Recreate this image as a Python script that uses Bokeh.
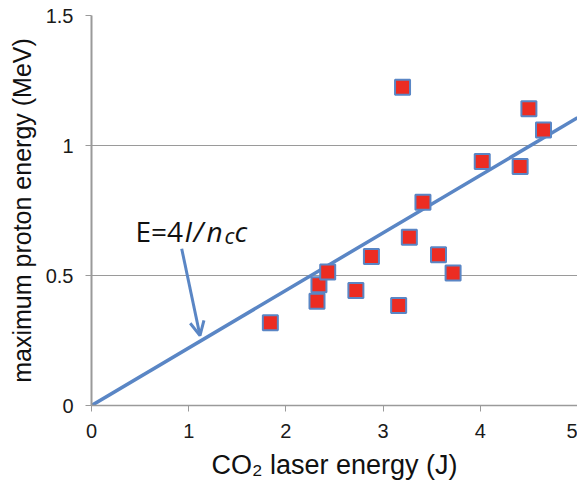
from bokeh.plotting import figure
from bokeh.models import FixedTicker, Arrow, OpenHead, Label
from bokeh.embed import file_html
from bokeh.resources import INLINE

# Data
laser_energy = [1.84, 2.32, 2.34, 2.43, 2.72, 2.88, 3.16, 3.20, 3.27, 3.41,
                3.57, 3.72, 4.02, 4.41, 4.50, 4.65]
proton_energy = [0.318, 0.401, 0.464, 0.513, 0.442, 0.573, 0.385, 1.224, 0.647, 0.782,
                 0.580, 0.510, 0.938, 0.919, 1.141, 1.060]
fit_x = [-0.08, 5.0]
fit_y = [-0.018, 1.107]
x_ticks = [0, 1, 2, 3, 4, 5]
x_tick_labels = ["0", "1", "2", "3", "4", "5"]
y_ticks = [0, 0.5, 1, 1.5]
y_tick_labels = ["0", "0.5", "1", "1.5"]

BLUE = "#5A86C5"
RED = "#EC2C22"
AXIS_GRAY = "#9A9A9A"

p = figure(frame_width=486, frame_height=390, x_range=(0, 5), y_range=(0, 1.5),
           output_backend="svg", toolbar_location=None,
           min_border_left=91, min_border_right=0, min_border_top=15, min_border_bottom=66)
p.outline_line_color = None
p.background_fill_color = "white"
p.border_fill_color = "white"

p.xaxis.ticker = FixedTicker(ticks=x_ticks)
p.yaxis.ticker = FixedTicker(ticks=y_ticks)
p.xaxis.major_label_overrides = {t: l for t, l in zip(x_ticks, x_tick_labels)}
p.yaxis.major_label_overrides = {t: l for t, l in zip(y_ticks, y_tick_labels)}

for ax in (p.xaxis, p.yaxis):
    ax.minor_tick_line_color = None
    ax.major_tick_in = 0
    ax.major_tick_out = 6
    ax.major_tick_line_color = AXIS_GRAY
    ax.axis_line_color = AXIS_GRAY
    ax.major_label_text_font = "Liberation Sans"
    ax.major_label_text_font_size = "20px"
    ax.major_label_text_color = "#1a1a1a"
    ax.axis_label_text_font = "Liberation Sans"
    ax.axis_label_text_font_style = "normal"
    ax.axis_label_text_color = "#111111"

p.xaxis.axis_label_text_font_size = "27px"
p.yaxis.axis_label_text_font_size = "25px"
p.xaxis.axis_line_width = 1.5
p.yaxis.axis_line_width = 2
p.xaxis.major_label_standoff = 12
p.yaxis.major_label_standoff = 12
p.xaxis.axis_label_standoff = 9
p.yaxis.axis_label_standoff = 7
p.xaxis.axis_label = "CO\u2082 laser energy (J)"
p.yaxis.axis_label = "maximum proton energy (MeV)"

p.xgrid.grid_line_color = None
p.ygrid.grid_line_color = AXIS_GRAY
p.ygrid.grid_line_width = 1

p.line(fit_x, fit_y, line_color=BLUE, line_width=3.5)
p.scatter(laser_energy, proton_energy, marker="square", size=15,
          fill_color=RED, line_color=BLUE, line_width=2)

p.add_layout(Arrow(end=OpenHead(size=14, line_color=BLUE, line_width=3),
                   x_start=0.928, y_start=0.603, x_end=1.116, y_end=0.269,
                   line_color=BLUE, line_width=3))

# Annotation E=4I/n_c c
bx, by = 0.453, 0.673
sub_dy = 0.019
px = 1 / 97.2
parts = [
    ("E=4", 0, 0, "normal", "28px"),
    ("I", 49, 0, "italic", "28px"),
    ("/", 58, 0, "italic", "28px"),
    ("n", 71, 0, "italic", "28px"),
    ("c", 89, -sub_dy, "italic", "22px"),
    ("c", 99, 0, "italic", "28px"),
]
for txt, dx, dy, style, size in parts:
    p.add_layout(Label(x=bx + dx * px, y=by + dy, text=txt, text_font="Open Sans",
                       text_font_style=style, text_font_size=size,
                       text_color="#111111", text_baseline="alphabetic"))

open("out.html", "w").write(file_html(p, INLINE))
